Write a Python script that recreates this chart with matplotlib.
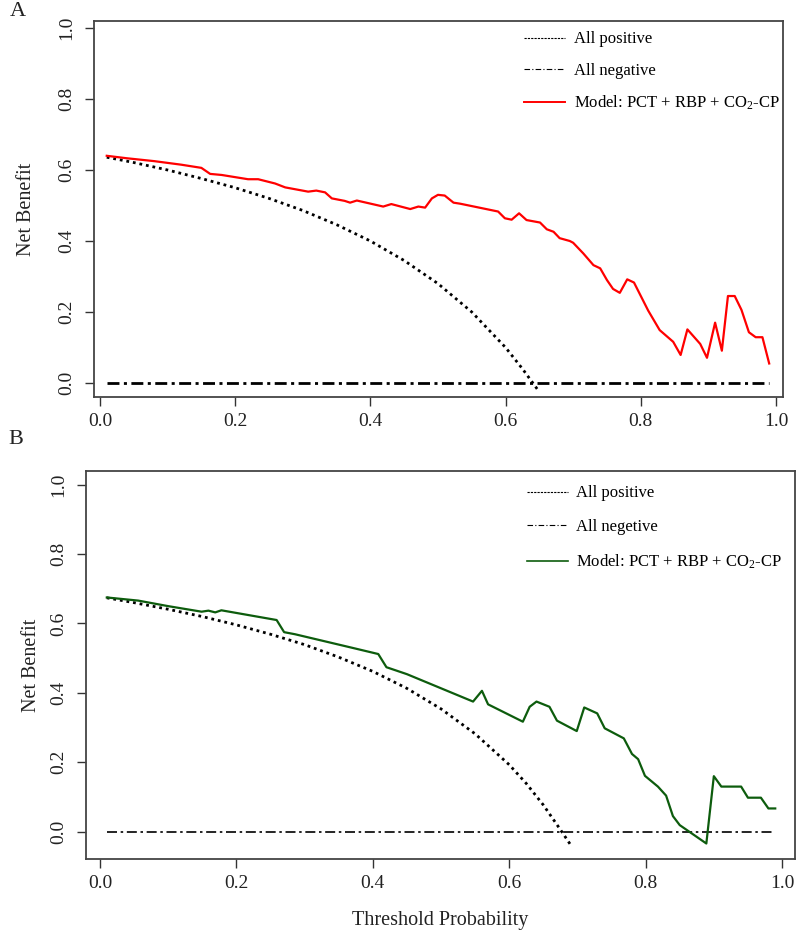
import matplotlib
matplotlib.use('Agg')
import matplotlib.pyplot as plt
from matplotlib.lines import Line2D

plt.rcParams['font.family'] = ['Liberation Serif', 'DejaVu Serif']
plt.rcParams['mathtext.fontset'] = 'custom'
plt.rcParams['mathtext.rm'] = 'Liberation Serif'
plt.rcParams['mathtext.it'] = 'Liberation Serif:italic'

# ---- data ----
# Panel A: model (red)
a_model_x = [0.01, 0.04, 0.08, 0.12, 0.150, 0.163, 0.18, 0.219, 0.234, 0.259, 0.274, 0.308,
             0.32, 0.333, 0.343, 0.362, 0.370, 0.380, 0.419, 0.431, 0.459, 0.471, 0.481,
             0.491, 0.500, 0.510, 0.523, 0.533, 0.589, 0.599, 0.609, 0.620, 0.631, 0.651,
             0.661, 0.671, 0.680, 0.695, 0.700, 0.715, 0.730, 0.740, 0.750, 0.759, 0.769,
             0.780, 0.790, 0.811, 0.828, 0.848, 0.859, 0.869, 0.888, 0.898, 0.910, 0.920,
             0.929, 0.939, 0.949, 0.960, 0.970, 0.980, 0.990]
a_model_nb = [0.640, 0.633, 0.625, 0.615, 0.606, 0.589, 0.586, 0.574, 0.574, 0.562, 0.551, 0.539,
              0.542, 0.537, 0.520, 0.513, 0.508, 0.514, 0.497, 0.504, 0.490, 0.497, 0.494,
              0.520, 0.530, 0.528, 0.508, 0.505, 0.483, 0.464, 0.460, 0.478, 0.459, 0.452,
              0.433, 0.426, 0.408, 0.400, 0.395, 0.365, 0.332, 0.323, 0.290, 0.265, 0.254,
              0.292, 0.283, 0.204, 0.149, 0.116, 0.079, 0.151, 0.110, 0.071, 0.170, 0.091,
              0.245, 0.245, 0.206, 0.143, 0.129, 0.129, 0.055]

# Panel A: treat all (dotted)
a_all_x = [0.01, 0.05, 0.10, 0.15, 0.20, 0.25, 0.30, 0.35, 0.40, 0.45, 0.50, 0.55, 0.60, 0.625, 0.648]
a_all_nb = [0.636, 0.621, 0.600, 0.576, 0.550, 0.520, 0.486, 0.446, 0.400, 0.345, 0.280, 0.200,
            0.100, 0.040, -0.020]

# Panel B: model (green)
b_model_x = [0.01, 0.056, 0.10, 0.149, 0.159, 0.169, 0.178, 0.259, 0.270, 0.286, 0.374, 0.408,
             0.420, 0.450, 0.547, 0.560, 0.569, 0.620, 0.630, 0.640, 0.659, 0.670, 0.699,
             0.710, 0.729, 0.740, 0.768, 0.780, 0.789, 0.799, 0.818, 0.830, 0.840, 0.850,
             0.889, 0.900, 0.911, 0.940, 0.950, 0.969, 0.980, 0.990]
b_model_nb = [0.675, 0.666, 0.650, 0.634, 0.637, 0.632, 0.638, 0.610, 0.575, 0.569, 0.528, 0.512,
              0.474, 0.454, 0.375, 0.406, 0.367, 0.317, 0.360, 0.375, 0.360, 0.320, 0.290,
              0.358, 0.341, 0.298, 0.269, 0.224, 0.209, 0.161, 0.130, 0.104, 0.045, 0.019,
              -0.034, 0.160, 0.130, 0.130, 0.098, 0.098, 0.067, 0.067]

# Panel B: treat all (dotted)
b_all_x = [0.01, 0.05, 0.10, 0.15, 0.20, 0.25, 0.30, 0.35, 0.40, 0.45, 0.50, 0.55, 0.60, 0.625,
           0.65, 0.675, 0.689]
b_all_nb = [0.674, 0.660, 0.641, 0.620, 0.596, 0.569, 0.539, 0.503, 0.462, 0.413, 0.354, 0.282,
            0.193, 0.139, 0.077, 0.006, -0.035]

# treat none
none_x = [0.01, 0.99]
none_nb = [0.0, 0.0]

ticks = [0.0, 0.2, 0.4, 0.6, 0.8, 1.0]
tick_labels = ['0.0', '0.2', '0.4', '0.6', '0.8', '1.0']
model_label = r'Model: PCT + RBP + CO$_\mathrm{2}$-CP'

fig = plt.figure(figsize=(7.97, 9.33), dpi=100)
ax_a = fig.add_axes([0.1179, 0.5745, 0.8645, 0.4030])
ax_b = fig.add_axes([0.1079, 0.0793, 0.8896, 0.4159])


def style_axes(ax, xlim, ylim, ylabelpad):
    ax.set_xlim(xlim)
    ax.set_ylim(ylim)
    ax.set_xticks(ticks)
    ax.set_xticklabels(tick_labels)
    ax.set_yticks(ticks)
    ax.set_yticklabels(tick_labels)
    ax.tick_params(direction='out', length=6.5, width=1.0, color='#333333',
                   labelsize=14, labelcolor='#222222')
    ax.tick_params(axis='x', pad=5)
    ax.tick_params(axis='y', pad=7)
    plt.setp(ax.get_yticklabels(), rotation=90, va='center')
    for s in ax.spines.values():
        s.set_color('#444444')
        s.set_linewidth(1.3)
    ax.set_ylabel('Net Benefit', fontsize=14.5, color='#222222', labelpad=ylabelpad)


# ---- panel A ----
ax_a.plot(none_x, none_nb, color='black', lw=2.0, linestyle=(0, (4.3, 1.6, 1.1, 1.6)))
ax_a.plot(a_all_x, a_all_nb, color='black', lw=2.0, linestyle=(0, (1, 1.4)),
          dash_capstyle='butt')
ax_a.plot(a_model_x, a_model_nb, color='#ff0000', lw=1.6)
style_axes(ax_a, (-0.0089, 1.0104), (-0.0394, 1.0197), 16)

handles_a = [
    Line2D([], [], color='black', lw=0.8, linestyle=(0, (2, 1))),
    Line2D([], [], color='black', lw=0.8, linestyle=(0, (5, 2, 1, 2))),
    Line2D([], [], color='#ff0000', lw=1.4),
]
ax_a.legend(handles_a, ['All positive', 'All negative', model_label],
            loc='upper left', bbox_to_anchor=(516 / 797, 1 - 23 / 933),
            bbox_transform=fig.transFigure, frameon=False, fontsize=12,
            handlelength=2.45, handletextpad=0.5, labelspacing=0.92, borderpad=0)

# ---- panel B ----
ax_b.plot(none_x, none_nb, color='black', lw=1.2, linestyle=(0, (6, 2.2, 1.5, 2.2)))
ax_b.plot(b_all_x, b_all_nb, color='black', lw=2.0, linestyle=(0, (1, 1.4)),
          dash_capstyle='butt')
ax_b.plot(b_model_x, b_model_nb, color='#0d5c0d', lw=1.6)
style_axes(ax_b, (-0.0205, 1.019), (-0.0787, 1.0395), 7)
ax_b.set_xlabel('Threshold Probability', fontsize=14.5, color='#222222', labelpad=14)

handles_b = [
    Line2D([], [], color='black', lw=0.8, linestyle=(0, (2, 1))),
    Line2D([], [], color='black', lw=0.8, linestyle=(0, (5, 2, 1, 2))),
    Line2D([], [], color='#0d5c0d', lw=1.2),
]
ax_b.legend(handles_b, ['All positive', 'All negetive', model_label],
            loc='upper left', bbox_to_anchor=(519 / 797, 1 - 477 / 933),
            bbox_transform=fig.transFigure, frameon=False, fontsize=12,
            handlelength=2.45, handletextpad=0.5, labelspacing=1.05, borderpad=0)

# panel letters
fig.text(10 / 797, 1 - 12 / 933, 'A', fontsize=16, ha='left', va='center', color='#222222')
fig.text(8 / 797, 1 - 440 / 933, 'B', fontsize=16, ha='left', va='center', color='#222222')

fig.savefig('out.png', dpi=100, facecolor='white')
